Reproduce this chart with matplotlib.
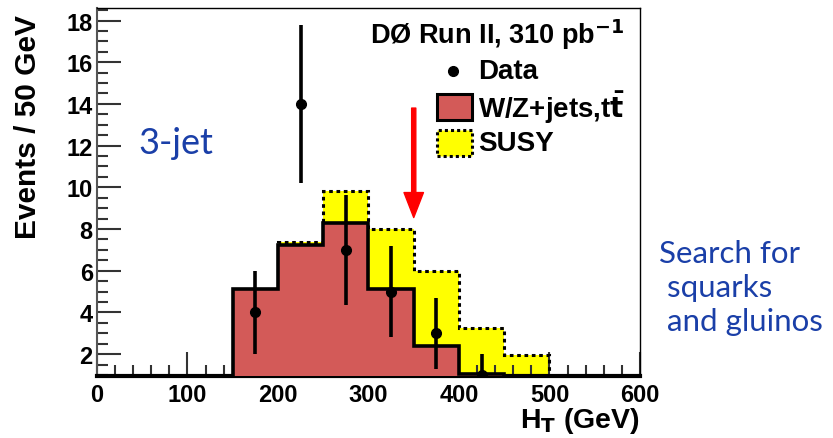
import numpy as np
import matplotlib.pyplot as plt
import matplotlib.ticker as tck
from matplotlib.patches import Rectangle

plt.rcParams['font.family'] = ['Liberation Sans', 'DejaVu Sans']

# H_T binning, 50 GeV per bin
edges = [150, 200, 250, 300, 350, 400, 450, 500]
bkg = [5.1, 7.25, 8.3, 5.1, 2.4, 1.05, 0.0]          # W/Z+jets, ttbar
total = [5.1, 7.4, 9.8, 8.0, 6.0, 3.25, 1.95]        # background + SUSY

data_x = [175, 225, 275, 325, 375, 425]
data_y = [4, 14, 7, 5, 3, 1]
data_lo = [2.0, 3.8, 2.65, 2.2, 1.7, 1.0]
data_hi = [2.0, 3.8, 2.65, 2.2, 1.7, 1.0]

cut_x = 350
cut_from, cut_to = 13.8, 8.55

fig = plt.figure(figsize=(8.33, 4.39), dpi=100)
ax1 = fig.add_axes([0.1164, 0.1412, 0.6519, 0.8383])

ax1.stairs(total, edges, fill=True, color='#ffff00', zorder=1)
ax1.stairs(total, edges, color='black', linestyle=(0, (1.2, 1.2)), linewidth=2.2, zorder=2)
ax1.stairs(bkg, edges, fill=True, color='#d35a58', zorder=3)
ax1.stairs(bkg, edges, color='black', linewidth=2.6, zorder=4)

ax1.errorbar(data_x, data_y, yerr=[data_lo, data_hi], fmt='o', color='black',
             ms=7, elinewidth=2.6, capsize=0, zorder=6)

ax1.annotate('', xy=(cut_x, cut_to), xytext=(cut_x, cut_from),
             arrowprops=dict(color='#ff0000', width=3, headwidth=14, headlength=18), zorder=7)

ax1.set_xlim(0, 600)
ax1.set_ylim(0.95, 18.6)
ax1.xaxis.set_major_locator(tck.MultipleLocator(100))
ax1.xaxis.set_minor_locator(tck.MultipleLocator(20))
ax1.yaxis.set_major_locator(tck.FixedLocator([2, 4, 6, 8, 10, 12, 14, 16, 18]))
ax1.yaxis.set_minor_locator(tck.MultipleLocator(0.5))
ax1.tick_params(which='both', direction='in', width=1.5, color='#333333')
ax1.tick_params(which='major', length=17, labelsize=17)
ax1.tick_params(axis='x', which='major', pad=5)
ax1.tick_params(axis='y', which='major', pad=3)
ax1.tick_params(which='minor', length=8)
for lab in ax1.get_xticklabels() + ax1.get_yticklabels():
    lab.set_fontweight('bold')

ax1.spines['left'].set_color('#555555')
ax1.spines['left'].set_linewidth(1.5)
ax1.spines['bottom'].set_linewidth(3)
ax1.spines['top'].set_linewidth(1)
ax1.spines['right'].set_linewidth(1)

# axis titles, ROOT style: flush with the top / right ends
fig.text(0.034, 0.966, 'Events / 50 GeV', rotation=90, ha='center', va='top',
         fontsize=21.5, fontweight='bold')
fig.text(0.768, 0.025, r'H$_\mathbf{T}$ (GeV)', ha='right', va='baseline',
         fontsize=20.5, fontweight='bold')

# legend block, drawn by hand
ax1.text(0.972, 0.929, r'DØ Run II, 310 pb$^{\mathbf{-1}}$', transform=ax1.transAxes,
         ha='right', va='center', fontsize=19.5, fontweight='bold')
ax1.plot([0.656], [0.829], 'o', color='black', ms=7, transform=ax1.transAxes)
ax1.text(0.702, 0.829, 'Data', transform=ax1.transAxes, ha='left', va='center',
         fontsize=20, fontweight='bold')
ax1.add_patch(Rectangle((0.626, 0.696), 0.064, 0.071, transform=ax1.transAxes,
                        facecolor='#d35a58', edgecolor='black', linewidth=2.2, zorder=8))
ax1.text(0.702, 0.731, r'W/Z+jets,t$\mathbf{\bar{t}}$', transform=ax1.transAxes, ha='left',
         va='center', fontsize=20, fontweight='bold')
ax1.add_patch(Rectangle((0.626, 0.598), 0.064, 0.071, transform=ax1.transAxes,
                        facecolor='#ffff00', edgecolor='black', linewidth=2.2,
                        linestyle=(0, (1, 1)), zorder=8))
ax1.text(0.702, 0.634, 'SUSY', transform=ax1.transAxes, ha='left', va='center',
         fontsize=20, fontweight='bold')

ax1.text(0.076, 0.606, '3-jet', transform=ax1.transAxes, fontsize=26,
         color='#1a3fa8', family=['Lato', 'DejaVu Sans'], va='baseline')
fig.text(0.791, 0.344, 'Search for\n squarks\n and gluinos', fontsize=22.5,
         color='#1a3fa8', family=['Lato', 'DejaVu Sans'], va='center', linespacing=1.25)

plt.savefig('out.png', dpi=100)
